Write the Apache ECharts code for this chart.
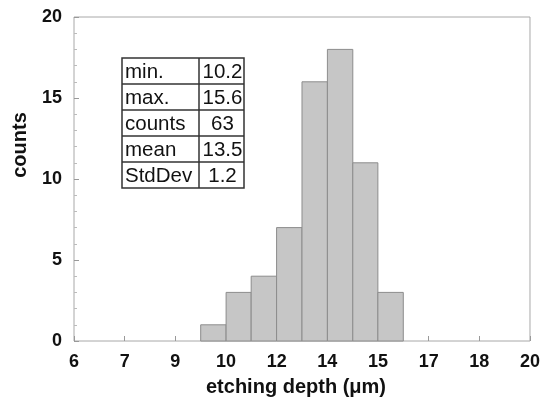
<!DOCTYPE html>
<html>
<head>
<meta charset="utf-8">
<script src="https://cdn.jsdelivr.net/npm/echarts@6/dist/echarts.min.js"></script>
<style>
html,body{margin:0;padding:0;background:#fff;}
#chart{width:543px;height:402px;}
</style>
</head>
<body>
<div id="chart"></div>
<script>
// Tick labels shown on the x axis (evenly spaced from 6 to 20)
var xTickLabels = ['6', '7', '9', '10', '12', '14', '15', '17', '18', '20'];
// Histogram bin edges (etching depth, µm)
var binEdges = [9.89, 10.67, 11.44, 12.22, 13.00, 13.78, 14.56, 15.33, 16.11];
// Counts per bin
var binCounts = [1, 3, 4, 7, 16, 18, 11, 3];
// Statistics table
var statNames = ['min.', 'max.', 'counts', 'mean', 'StdDev'];
var statValues = ['10.2', '15.6', '63', '13.5', '1.2'];

var FONT = '"Liberation Sans", Arial, sans-serif';

var histData = binCounts.map(function (c, i) {
  return [binEdges[i], binEdges[i + 1], c];
});

// table graphic
var tbl = [];
var tx = 122, ty = 58, tw = 122, rh = 26, colX = 199;
tbl.push({type: 'rect', shape: {x: tx, y: ty, width: tw, height: rh * statNames.length},
  style: {fill: '#fff', stroke: '#333', lineWidth: 1.5}, z: 100});
tbl.push({type: 'line', shape: {x1: colX, y1: ty, x2: colX, y2: ty + rh * statNames.length},
  style: {stroke: '#333', lineWidth: 1.5}, z: 101});
for (var i = 1; i < statNames.length; i++) {
  tbl.push({type: 'line', shape: {x1: tx, y1: ty + rh * i, x2: tx + tw, y2: ty + rh * i},
    style: {stroke: '#333', lineWidth: 1.5}, z: 101});
}
statNames.forEach(function (n, i) {
  tbl.push({type: 'text', x: tx + 3, y: ty + rh * i + rh / 2 + 1, z: 102,
    style: {text: n, font: '20.5px ' + FONT, fill: '#111', textVerticalAlign: 'middle', textAlign: 'left'}});
  tbl.push({type: 'text', x: (colX + tx + tw) / 2 + 1, y: ty + rh * i + rh / 2 + 1, z: 102,
    style: {text: statValues[i], font: '20.5px ' + FONT, fill: '#111', textVerticalAlign: 'middle', textAlign: 'center'}});
});
tbl.push({type: 'text', x: 20, y: 145, rotation: Math.PI / 2, z: 102,
  style: {text: 'counts', font: 'bold 20px ' + FONT, fill: '#111', textAlign: 'center', textVerticalAlign: 'middle'}});

var chart = echarts.init(document.getElementById('chart'));
chart.setOption({
  backgroundColor: '#fff',
  animation: false,
  grid: {left: 74, right: 11, top: 17, bottom: 61, show: true, borderColor: '#a8a8a8', borderWidth: 1},
  xAxis: [{
    type: 'category',
    data: xTickLabels,
    boundaryGap: false,
    position: 'bottom',
    name: 'etching depth (\u03bcm)',
    nameLocation: 'middle',
    nameGap: 36,
    nameTextStyle: {fontFamily: FONT, fontWeight: 'bold', fontSize: 20, color: '#111', padding: [0, 12, 0, 0]},
    axisLine: {show: false},
    axisTick: {show: true, inside: true, length: 5, lineStyle: {color: '#999'}},
    axisLabel: {interval: 0, margin: 12, fontFamily: FONT, fontWeight: 'bold', fontSize: 18, color: '#111'},
    splitLine: {show: false}
  }, {
    type: 'value',
    min: 6,
    max: 20,
    show: false
  }],
  yAxis: {
    type: 'value',
    min: 0,
    max: 20,
    interval: 5,
    axisLine: {show: false},
    axisTick: {show: true, inside: true, length: 5, lineStyle: {color: '#999'}},
    minorTick: {show: true, splitNumber: 5, length: 3, lineStyle: {color: '#bbb'}},
    axisLabel: {margin: 12, fontFamily: FONT, fontWeight: 'bold', fontSize: 18, color: '#111'},
    splitLine: {show: false}
  },
  series: [{
    type: 'custom',
    xAxisIndex: 1,
    yAxisIndex: 0,
    data: histData,
    encode: {x: [0, 1], y: 2},
    renderItem: function (params, api) {
      var p0 = api.coord([api.value(0), 0]);
      var p1 = api.coord([api.value(1), api.value(2)]);
      return {
        type: 'rect',
        shape: {x: p0[0], y: p1[1], width: p1[0] - p0[0], height: p0[1] - p1[1]},
        style: {fill: '#c6c6c6', stroke: '#8c8c8c', lineWidth: 1}
      };
    }
  }],
  graphic: tbl
});
</script>
</body>
</html>
